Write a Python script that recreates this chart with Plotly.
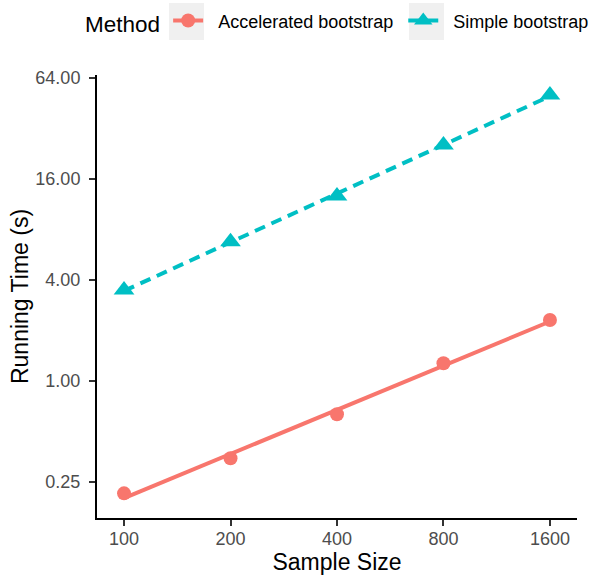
import numpy as np
import plotly.graph_objects as go

# Running time (seconds) by sample size for the two bootstrap methods
sample_size = [100, 200, 400, 800, 1600]
accelerated_time = [0.213, 0.345, 0.631, 1.27, 2.30]
simple_time = [3.47, 6.74, 12.6, 25.4, 50.5]

y_tick_vals = [0.25, 1, 4, 16, 64]
y_tick_text = ["0.25", "1.00", "4.00", "16.00", "64.00"]
x_tick_vals = [100, 200, 400, 800, 1600]
x_tick_text = ["100", "200", "400", "800", "1600"]

RED = "#F8766D"
TEAL = "#00BFC4"
KEY_BG = "#F0F0F0"
FONT = "Liberation Sans, Arial, sans-serif"
NBSP = "\u00a0"

# plot panel geometry in pixels
W, H = 591, 576
ML, MR, MT, MB = 97, 14, 75, 58
PW, PH = W - ML - MR, H - MT - MB


def loglog_fit(x, y):
    """Least-squares line in log2-log2 space, evaluated over the data range."""
    lx, ly = np.log2(x), np.log2(y)
    slope, intercept = np.polyfit(lx, ly, 1)
    xs = np.linspace(lx.min(), lx.max(), 80)
    return 2 ** xs, 2 ** (intercept + slope * xs)


def px_to_paper_x(px):
    return (px - ML) / PW


def px_to_paper_y(py):
    return (H - MB - py) / PH


fig = go.Figure()

series = [
    ("Accelerated bootstrap", accelerated_time, RED, "circle", 14, "solid", NBSP),
    ("Simple bootstrap", simple_time, TEAL, "triangle-up", 18, "11px,7px", ""),
]

for name, values, color, symbol, msize, dash, pad in series:
    fx, fy = loglog_fit(np.array(sample_size, float), np.array(values, float))
    fig.add_trace(go.Scatter(
        x=fx, y=fy, mode="lines", showlegend=False, hoverinfo="skip",
        line=dict(color=color, width=4, dash=dash),
    ))
    fig.add_trace(go.Scatter(
        x=sample_size, y=values, mode="markers", showlegend=False,
        marker=dict(color=color, symbol=symbol, size=msize),
    ))
    # legend entry showing both the line and the point glyph
    fig.add_trace(go.Scatter(
        x=[None], y=[None], mode="lines+markers",
        name=NBSP * 2 + name + pad,
        line=dict(color=color, width=4, dash="solid"),
        marker=dict(color=color, symbol=symbol, size=msize),
    ))

axis_common = dict(
    type="log",
    showgrid=False,
    zeroline=False,
    showline=True,
    linecolor="black",
    linewidth=2,
    ticks="outside",
    ticklen=6,
    tickwidth=1.5,
    tickcolor="#333333",
    tickfont=dict(family=FONT, size=18, color="#4D4D4D"),
    title_font=dict(family=FONT, size=23, color="black"),
)

fig.update_xaxes(
    **axis_common,
    range=[np.log10(2 ** 6.39), np.log10(2 ** 10.898)],
    tickvals=x_tick_vals, ticktext=x_tick_text,
    ticklabelstandoff=-3,
    title_text="Sample Size", title_standoff=6,
)
fig.update_yaxes(
    **axis_common,
    range=[np.log10(2 ** -2.719), np.log10(2 ** 6.053)],
    tickvals=y_tick_vals, ticktext=y_tick_text,
    ticklabelstandoff=5,
    title_text="Running Time (s)", title_standoff=0,
)

# grey key backgrounds behind the legend glyphs
for left, right in [(169, 204), (409, 444)]:
    fig.add_shape(
        type="rect", xref="paper", yref="paper", layer="below",
        x0=px_to_paper_x(left), x1=px_to_paper_x(right),
        y0=px_to_paper_y(40), y1=px_to_paper_y(3),
        fillcolor=KEY_BG, line=dict(width=0),
    )

fig.update_layout(
    width=W, height=H,
    margin=dict(l=ML, r=MR, t=MT, b=MB, autoexpand=False),
    paper_bgcolor="white", plot_bgcolor="white",
    font=dict(family=FONT),
    legend=dict(
        orientation="h",
        x=-0.029, xanchor="left",
        y=1.164, yanchor="top",
        bgcolor="rgba(0,0,0,0)",
        title=dict(text="Method", font=dict(family=FONT, size=22.5, color="black")),
        font=dict(family=FONT, size=18, color="black"),
        itemsizing="trace",
    ),
)

fig.write_html("out.html")
